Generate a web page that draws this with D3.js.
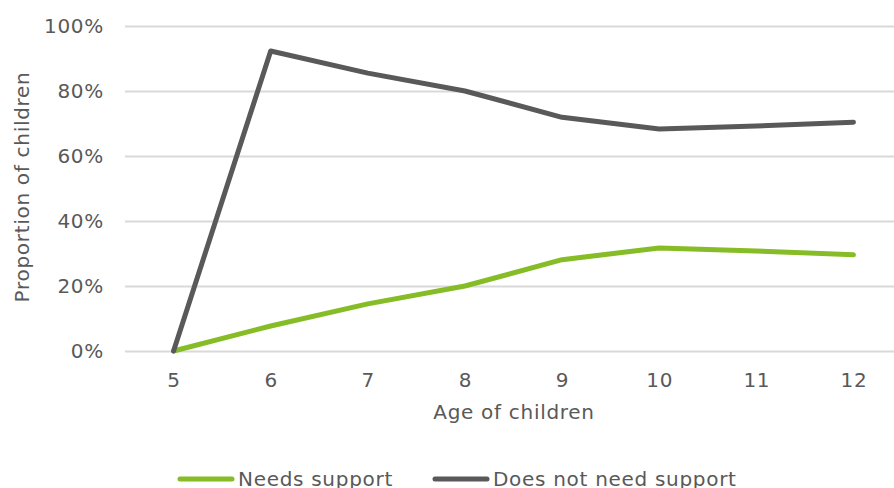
<!DOCTYPE html>
<html>
<head>
<meta charset="utf-8">
<script src="https://cdn.jsdelivr.net/npm/d3@7"></script>
<style>
  html, body { margin: 0; padding: 0; background: #fff; }
  svg { display: block; }
  text { font-family: "DejaVu Sans", Verdana, sans-serif; fill: #595959; letter-spacing: 0.7px; }
</style>
</head>
<body>
<svg id="chart" width="894" height="488"></svg>
<script>
// Ages on the x axis
const ages = ["5", "6", "7", "8", "9", "10", "11", "12"];
// Share of children (%) by age
const needsSupport = [0, 7.7, 14.5, 20, 28.1, 31.7, 30.8, 29.6];
const noSupport = [0, 92.3, 85.5, 80, 71.9, 68.3, 69.2, 70.4];
const yTicks = [0, 20, 40, 60, 80, 100];

const series = [
  { name: "Needs support", values: needsSupport, color: "#86BC25" },
  { name: "Does not need support", values: noSupport, color: "#595959" }
];

const svg = d3.select("#chart");
const plotLeft = 125, plotRight = 902, plotTop = 26, plotBottom = 351;

const x = d3.scalePoint().domain(ages).range([plotLeft, plotRight]).padding(0.5);
const y = d3.scaleLinear().domain([0, 100]).range([plotBottom, plotTop]);

// Horizontal gridlines + y tick labels
const yAxis = d3.axisLeft(y).tickValues(yTicks)
  .tickSize(-(plotRight - plotLeft)).tickPadding(21)
  .tickFormat(d => d + "%");
const gy = svg.append("g").attr("transform", `translate(${plotLeft},0)`).call(yAxis);
gy.select(".domain").remove();
gy.selectAll(".tick line").attr("stroke", "#d9d9d9").attr("stroke-width", 2);
gy.selectAll(".tick text").style("font-size", "20px").attr("fill", "#595959");

// X tick labels
const xAxis = d3.axisBottom(x).tickSize(0).tickPadding(22);
const gx = svg.append("g").attr("transform", `translate(0,${plotBottom})`).call(xAxis);
gx.select(".domain").remove();
gx.selectAll(".tick text").style("font-size", "20px").attr("fill", "#595959");

// Axis titles
svg.append("text").attr("x", 514).attr("y", 419)
  .attr("text-anchor", "middle").style("font-size", "20px").text("Age of children");
svg.append("text").attr("transform", `translate(29,187) rotate(-90)`)
  .attr("text-anchor", "middle").style("font-size", "20px").text("Proportion of children");

// Lines
const line = d3.line().x((d, i) => x(ages[i])).y(d => y(d));
series.forEach(s => {
  svg.append("path").datum(s.values)
    .attr("d", line).attr("fill", "none")
    .attr("stroke", s.color).attr("stroke-width", 5)
    .attr("stroke-linejoin", "round").attr("stroke-linecap", "round");
});

// Legend: swatch line followed by label
const legendX = [180, 435];
series.forEach((s, i) => {
  const g = svg.append("g").attr("transform", `translate(${legendX[i]},479)`);
  g.append("line").attr("x1", 0).attr("x2", 52).attr("y1", 0).attr("y2", 0)
    .attr("stroke", s.color).attr("stroke-width", 5).attr("stroke-linecap", "round");
  g.append("text").attr("x", 58).attr("y", 7).style("font-size", "20px").text(s.name);
});
</script>
</body>
</html>
